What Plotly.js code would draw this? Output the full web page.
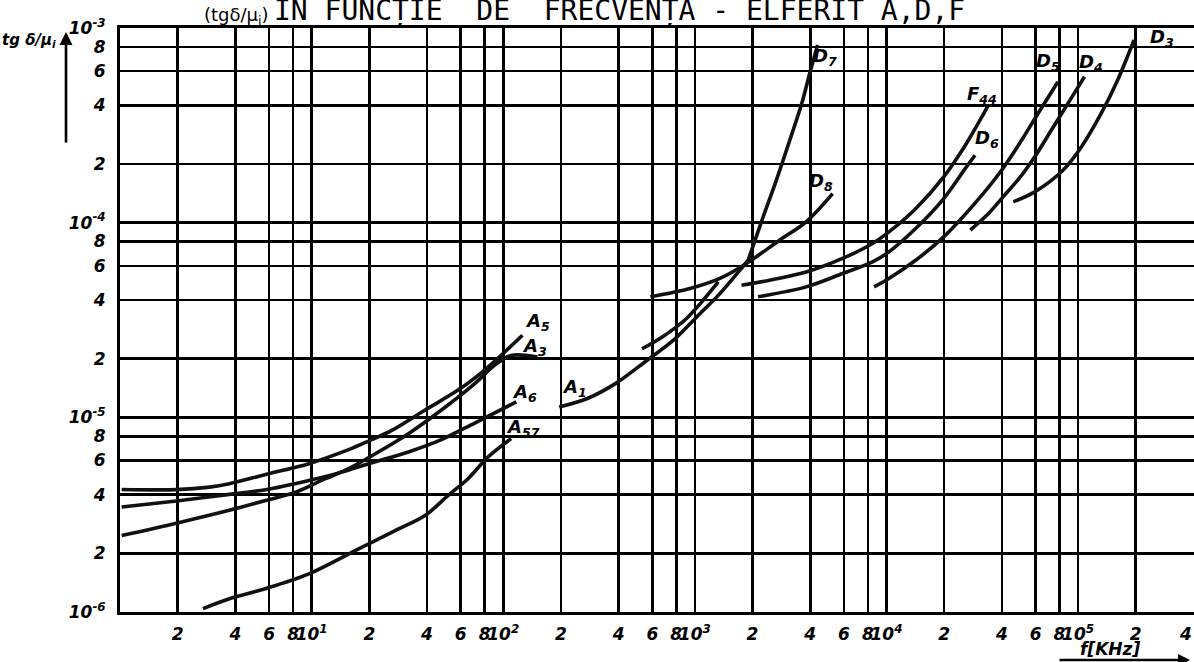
<!DOCTYPE html>
<html><head><meta charset="utf-8">
<script src="https://cdn.plot.ly/plotly-3.0.1.min.js"></script>
<style>html,body{margin:0;padding:0;background:#fff;overflow:hidden}</style>
</head><body>
<div id="chart" style="width:1194px;height:662px"></div>
<script>
// frequency f [kHz] and tg(delta)/mu_i
const fA5 = [1.02, 1.97, 2.93, 3.72, 5.77, 9.68, 15.6, 19.8, 26.2, 39.1, 58.1, 80, 99.5, 126];
const tgA5 = [4.26e-6, 4.25e-6, 4.38e-6, 4.56e-6, 5.09e-6, 5.78e-6, 6.82e-6, 7.55e-6, 8.57e-6, 1.09e-5, 1.38e-5, 1.75e-5, 2.12e-5, 2.64e-5];

const fA3 = [1.02, 1.97, 3.72, 5.77, 8.26, 11.8, 15.6, 21.5, 32, 47.6, 71, 90, 110, 151];
const tgA3 = [2.47e-6, 2.86e-6, 3.33e-6, 3.74e-6, 4.13e-6, 4.84e-6, 5.45e-6, 6.5e-6, 8.24e-6, 1.09e-5, 1.49e-5, 1.85e-5, 2.08e-5, 2.04e-5];

const fA6 = [1.02, 1.97, 3.72, 5.77, 9.68, 14.4, 19.8, 32, 47.6, 71, 117];
const tgA6 = [3.46e-6, 3.72e-6, 4.02e-6, 4.25e-6, 4.74e-6, 5.23e-6, 5.78e-6, 6.64e-6, 7.68e-6, 9.35e-6, 1.2e-5];

const fA57 = [2.71, 3.72, 5.77, 9.68, 17.6, 27.3, 39.1, 51.6, 65.5, 83.2, 110];
const tgA57 = [1.04e-6, 1.17e-6, 1.32e-6, 1.57e-6, 2.11e-6, 2.62e-6, 3.13e-6, 3.97e-6, 4.84e-6, 6.25e-6, 7.77e-6];

const fA1 = [196, 275, 385, 562, 774, 1023, 1351, 1718, 1897];
const tgA1 = [1.13e-5, 1.25e-5, 1.49e-5, 1.96e-5, 2.49e-5, 3.28e-5, 4.32e-5, 5.7e-5, 6.41e-5];

const fSeg = [530, 673, 908, 1325];
const tgSeg = [2.25e-5, 2.58e-5, 3.23e-5, 4.96e-5];

const fD7 = [1897, 2225, 2661, 3184, 3633, 3993, 4375];
const tgD7 = [6.41e-5, 1.01e-4, 1.65e-4, 2.79e-4, 4.17e-4, 5.94e-4, 8.18e-4];

const fD8 = [586, 944, 1351, 1858, 2767, 3811, 5237];
const tgD8 = [4.16e-5, 4.59e-5, 5.17e-5, 6.17e-5, 8.13e-5, 1.01e-4, 1.41e-4];

const fF44 = [1751, 2455, 3811, 5900, 8460, 10300, 14200, 19900, 25800, 31500, 34000];
const tgF44 = [4.77e-5, 5.06e-5, 5.58e-5, 6.55e-5, 7.82e-5, 8.97e-5, 1.18e-4, 1.72e-4, 2.5e-4, 3.5e-4, 4.02e-4];

const fD6 = [2138, 3811, 5900, 8460, 10300, 14200, 19900, 25800, 29000];
const tgD6 = [4.16e-5, 4.68e-5, 5.48e-5, 6.29e-5, 7.08e-5, 9.33e-5, 1.33e-4, 1.9e-4, 2.22e-4];

const fD5 = [8610, 10300, 14200, 19900, 29000, 39900, 50700, 61800, 78500];
const tgD5 = [4.68e-5, 5.17e-5, 6.41e-5, 8.45e-5, 1.26e-4, 1.86e-4, 2.65e-4, 3.64e-4, 5.3e-4];

const fD4 = [27400, 34000, 39900, 50700, 59400, 72600, 88600, 108000];
const tgD4 = [9.16e-5, 1.11e-4, 1.33e-4, 1.75e-4, 2.18e-4, 2.99e-4, 4.1e-4, 5.62e-4];

const fD3 = [45900, 59400, 83400, 104000, 132000, 161000, 196000];
const tgD3 = [1.28e-4, 1.44e-4, 1.86e-4, 2.45e-4, 3.64e-4, 5.41e-4, 8.68e-4];

const xTickVals = [2,4,6,8,10,20,40,60,80,100,200,400,600,800,1000,2000,4000,6000,8000,10000,20000,40000,60000,80000,100000,200000,400000];
const xTickText = ['2','4','6','8','10<sup>1</sup>','2','4','6','8','10<sup>2</sup>','2','4','6','8','10<sup>3</sup>','2','4','6','8','10<sup>4</sup>','2','4','6','8','10<sup>5</sup>','2','4'];
const yTickVals = [1e-6,2e-6,4e-6,6e-6,8e-6,1e-5,2e-5,4e-5,6e-5,8e-5,1e-4,2e-4,4e-4,6e-4,8e-4,1e-3];
const yTickText = ['10<sup>-6</sup>','2','4','6','8','10<sup>-5</sup>','2','4','6','8','10<sup>-4</sup>','2','4','6','8','10<sup>-3</sup>'];

// curve labels: [text, log10 f, log10 tg]
const curveLabels = [
  ['A<sub>5</sub>', 2.180, -4.512],
  ['A<sub>3</sub>', 2.164, -4.640],
  ['A<sub>6</sub>', 2.112, -4.877],
  ['A<sub>57</sub>', 2.102, -5.057],
  ['A<sub>1</sub>', 2.372, -4.851],
  ['D<sub>7</sub>', 3.679, -3.149],
  ['D<sub>8</sub>', 3.659, -3.792],
  ['F<sub>44</sub>', 4.499, -3.344],
  ['D<sub>6</sub>', 4.525, -3.571],
  ['D<sub>5</sub>', 4.842, -3.175],
  ['D<sub>4</sub>', 5.070, -3.180],
  ['D<sub>3</sub>', 5.440, -3.051]
];

const series = [
  ['A5', fA5, tgA5], ['A3', fA3, tgA3], ['A6', fA6, tgA6], ['A57', fA57, tgA57],
  ['A1', fA1, tgA1], ['A', fSeg, tgSeg], ['D7', fD7, tgD7], ['D8', fD8, tgD8],
  ['F44', fF44, tgF44], ['D6', fD6, tgD6], ['D5', fD5, tgD5], ['D4', fD4, tgD4], ['D3', fD3, tgD3]
];

const hand = {family: 'DejaVu Sans, sans-serif', size: 17, color: '#000', weight: 'bold', style: 'italic'};

const traces = series.map(s => ({
  type: 'scatter', mode: 'lines', name: s[0], x: s[1], y: s[2],
  line: {color: '#111', width: 3.6, shape: 'spline', smoothing: 0.9},
  hoverinfo: 'x+y+name'
}));

const annotations = curveLabels.map(l => ({
  text: l[0], x: l[1], y: l[2], xref: 'x', yref: 'y', showarrow: false,
  font: {family: 'DejaVu Sans, sans-serif', size: 18, color: '#000', weight: 'bold', style: 'italic'}
}));

annotations.push(
  {text: '(tgδ/μ<sub>i</sub>)', xref: 'paper', yref: 'paper', x: (271-120)/1074, y: 0.9966, xanchor: 'right', yanchor: 'bottom', showarrow: false,
   font: {family: 'DejaVu Sans, sans-serif', size: 18, color: '#000'}},
  {text: 'IN FUNCȚIE\u00A0\u00A0DE\u00A0\u00A0FRECVENȚA - ELFERIT A,D,F', xref: 'paper', yref: 'paper', x: (272-120)/1074, y: 0.9966,
   xanchor: 'left', yanchor: 'bottom', showarrow: false,
   font: {family: 'DejaVu Sans Mono, monospace', size: 28, color: '#000'}},
  {text: 'tg δ/μ<sub>i</sub>', xref: 'paper', yref: 'paper', x: (0-120)/1074, y: 0.979, xanchor: 'left', yanchor: 'middle', showarrow: false,
   font: {family: 'DejaVu Sans, sans-serif', size: 15, color: '#000', weight: 'bold', style: 'italic'}},
  {text: '', xref: 'paper', yref: 'paper', x: (66-120)/1074, y: 1-(32-28)/584, ax: 0, ay: 112,
   showarrow: true, arrowhead: 2, arrowsize: 1, arrowwidth: 2.6, arrowcolor: '#000'},
  {text: 'f[KHz]', xref: 'paper', yref: 'paper', x: (1110-120)/1074, y: 1-(649-28)/584, xanchor: 'center', yanchor: 'middle', showarrow: false,
   font: {family: 'DejaVu Sans, sans-serif', size: 17, color: '#000', weight: 'bold', style: 'italic'}},
  {text: '', xref: 'paper', yref: 'paper', x: (1190-120)/1074, y: 1-(660-28)/584, ax: -132, ay: 0,
   showarrow: true, arrowhead: 2, arrowsize: 1, arrowwidth: 2.4, arrowcolor: '#000'},
  // last x tick label ("4" x 10^5), sits at the right edge and would be hidden as a tick label
  {text: xTickText[xTickText.length - 1], xref: 'paper', yref: 'paper', x: 1, y: 1-(634-28)/584, xanchor: 'right', yanchor: 'middle', showarrow: false,
   font: hand}
);

const layout = {
  width: 1194, height: 662,
  margin: {l: 120, r: 0, t: 28, b: 50},
  paper_bgcolor: '#fff', plot_bgcolor: '#fff',
  showlegend: false,
  xaxis: {
    type: 'log', range: [0, 5.605], tickmode: 'array', tickvals: xTickVals, ticktext: xTickText,
    tickangle: 0, ticks: '', ticklabelstandoff: 5, tickfont: hand,
    showgrid: true, gridcolor: '#000', gridwidth: 2.6,
    showline: true, linecolor: '#000', linewidth: 3, mirror: true, zeroline: false
  },
  yaxis: {
    type: 'log', range: [-6, -3], tickmode: 'array', tickvals: yTickVals, ticktext: yTickText,
    ticks: '', ticklabelstandoff: 8, tickfont: hand,
    showgrid: true, gridcolor: '#000', gridwidth: 2.6,
    showline: true, linecolor: '#000', linewidth: 3, mirror: true, zeroline: false
  },
  annotations: annotations
};

Plotly.newPlot('chart', traces, layout, {displayModeBar: false, staticPlot: true});
</script>
</body></html>
